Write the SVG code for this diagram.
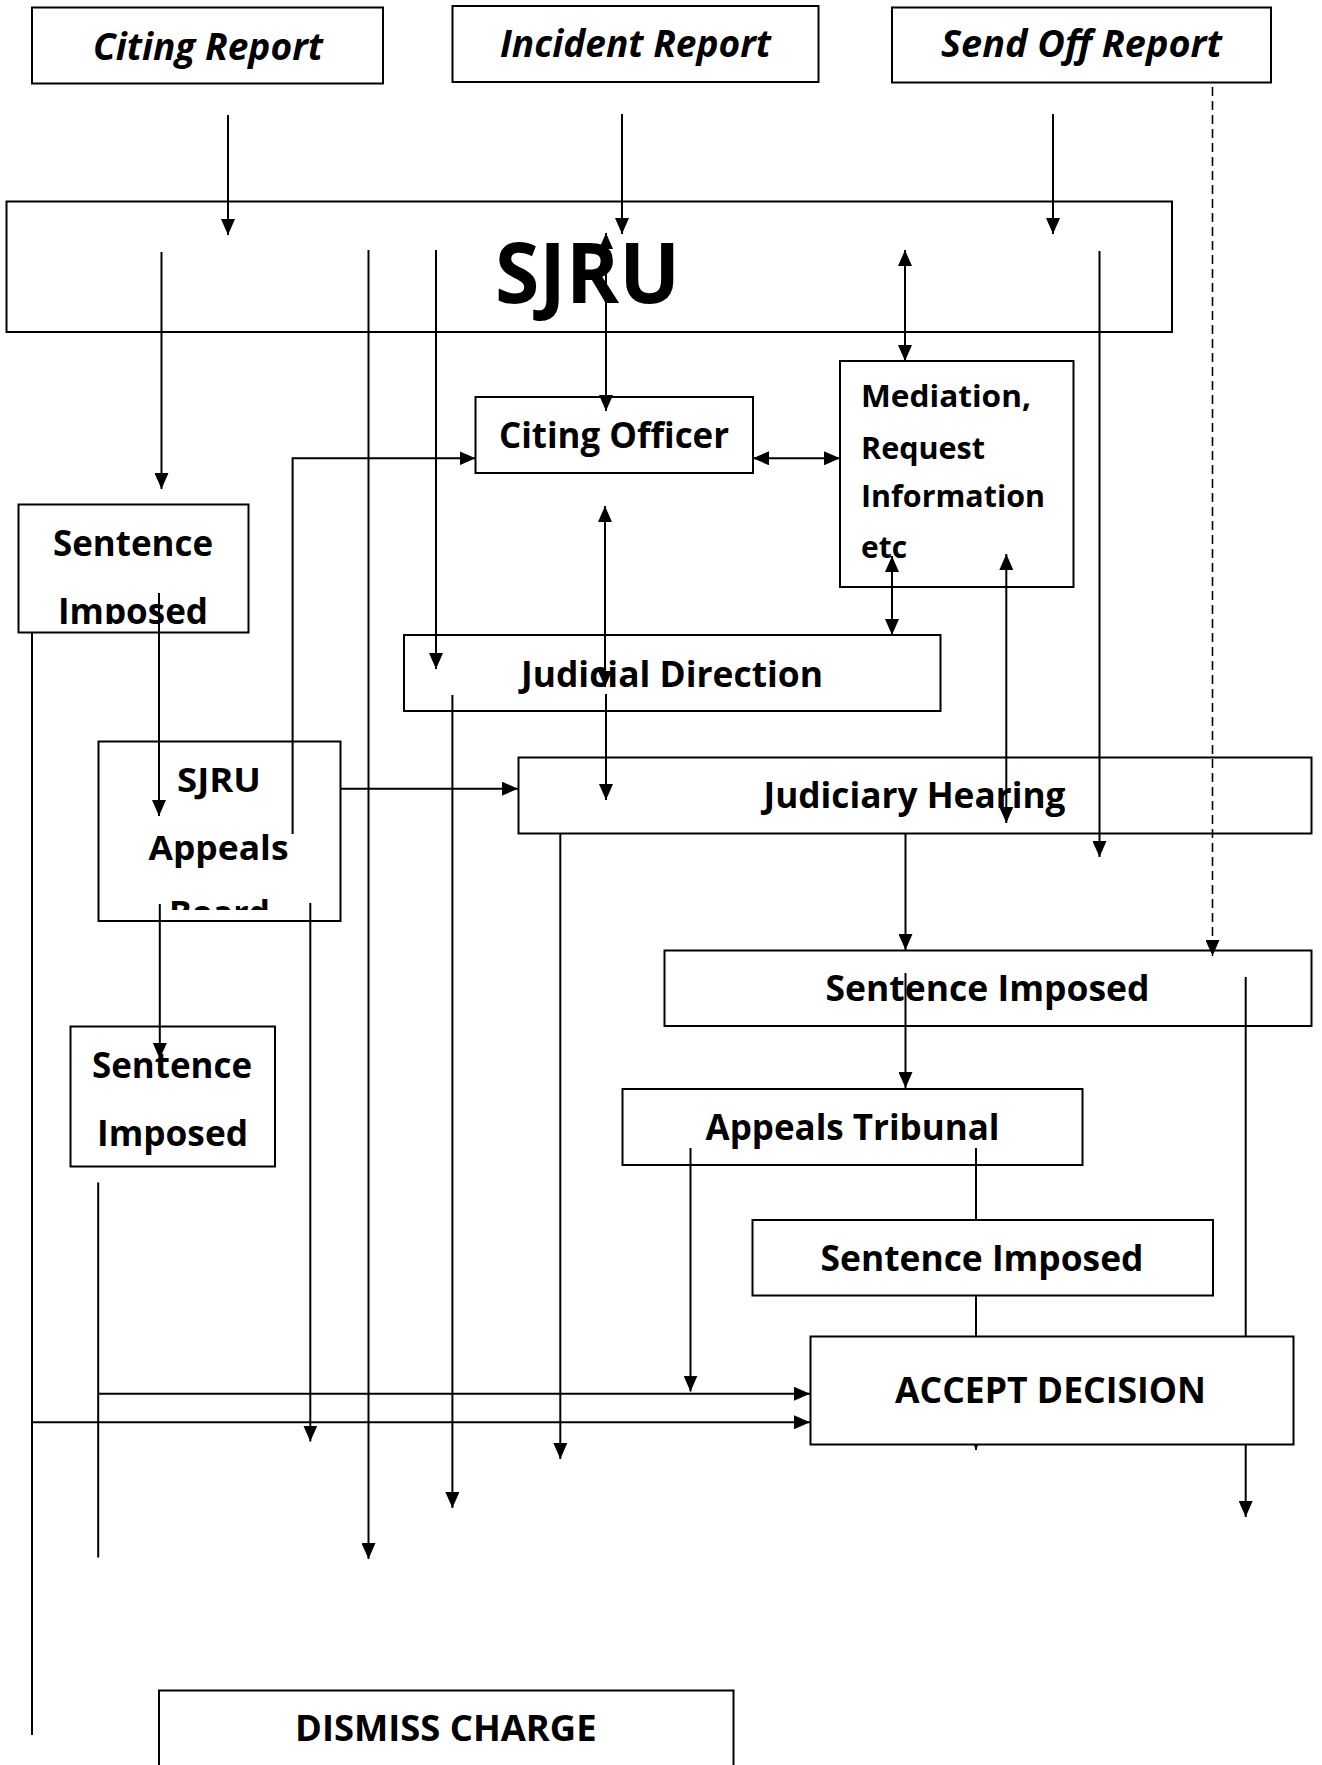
<svg xmlns="http://www.w3.org/2000/svg" width="1322" height="1765" viewBox="0 0 1322 1765">
<style>
.box{fill:none;stroke:#000;stroke-width:2}
.wbox{fill:#fff;stroke:#000;stroke-width:2}
.t{font-family:"Open Sans","Liberation Sans",sans-serif;font-weight:bold;fill:#000}
.ti{font-style:italic;font-size:37px}
.tb{font-size:35px}
.tm{font-size:30px}
.ln{fill:none;stroke:#000;stroke-width:2}
.a{marker-end:url(#ah)}
.d{marker-start:url(#ah);marker-end:url(#ah)}
.dash{stroke-width:1.6;stroke-dasharray:9 5}
</style>
<defs>
<marker id="ah" viewBox="0 0 16 14" refX="16" refY="7" markerWidth="16" markerHeight="14" markerUnits="userSpaceOnUse" orient="auto-start-reverse">
<path d="M0,0 L16,7 L0,14 z" fill="#000"/>
</marker>
<clipPath id="c1"><rect x="18" y="504" width="232" height="120"/></clipPath>
<clipPath id="c2"><rect x="98" y="741" width="243" height="169"/></clipPath>
</defs>

<g id="citing-report"><rect class="box" x="32" y="7.5" width="351" height="76"/><text class="t ti" x="93" y="60" textLength="230" lengthAdjust="spacingAndGlyphs">Citing Report</text></g>
<g id="incident-report"><rect class="box" x="452.5" y="6" width="366" height="76"/><text class="t ti" x="500" y="57" textLength="271" lengthAdjust="spacingAndGlyphs">Incident Report</text></g>
<g id="send-off-report"><rect class="box" x="892" y="7.5" width="379" height="75"/><text class="t ti" x="941" y="57" textLength="281" lengthAdjust="spacingAndGlyphs">Send Off Report</text></g>
<g id="sjru"><rect class="box" x="6.5" y="201.5" width="1165.5" height="130.5"/><text class="t" font-size="84" x="495" y="303" textLength="185" lengthAdjust="spacingAndGlyphs">SJRU</text></g>
<g id="citing-officer"><rect class="box" x="475.5" y="397" width="277.5" height="76"/><text class="t tb" x="499" y="448" textLength="230" lengthAdjust="spacingAndGlyphs">Citing Officer</text></g>
<g id="mediation"><rect class="box" x="840" y="361" width="233.5" height="226"/>
<text class="t tm" x="861" y="407" textLength="170" lengthAdjust="spacingAndGlyphs">Mediation,</text>
<text class="t tm" x="861" y="459" textLength="124" lengthAdjust="spacingAndGlyphs">Request</text>
<text class="t tm" x="861" y="507" textLength="184" lengthAdjust="spacingAndGlyphs">Information</text>
<text class="t tm" x="861" y="558" textLength="46" lengthAdjust="spacingAndGlyphs">etc</text></g>
<g id="sentence-imposed-1"><rect class="box" x="18.5" y="504.5" width="230" height="128"/>
<text class="t tb" x="53" y="556" textLength="160" lengthAdjust="spacingAndGlyphs">Sentence</text>
<text class="t tb" x="58" y="624" textLength="150" lengthAdjust="spacingAndGlyphs" clip-path="url(#c1)">Imposed</text></g>
<g id="judicial-direction"><rect class="box" x="404" y="635" width="536.5" height="76"/><text class="t tb" x="521" y="687" textLength="302" lengthAdjust="spacingAndGlyphs">Judicial Direction</text></g>
<g id="sjru-appeals-board"><rect class="box" x="98.5" y="741.5" width="242" height="179.5"/>
<g clip-path="url(#c2)">
<text class="t" font-size="34" x="177" y="792" textLength="84" lengthAdjust="spacingAndGlyphs">SJRU</text>
<text class="t" font-size="34" x="148.5" y="860" textLength="140" lengthAdjust="spacingAndGlyphs">Appeals</text>
<text class="t" font-size="34" x="169" y="925" textLength="101" lengthAdjust="spacingAndGlyphs">Board</text></g></g>
<g id="judiciary-hearing"><rect class="box" x="518.5" y="757.5" width="793" height="76"/><text class="t tb" x="763.5" y="808" textLength="302" lengthAdjust="spacingAndGlyphs">Judiciary Hearing</text></g>
<g id="sentence-imposed-3"><rect class="box" x="664.5" y="950.5" width="647" height="75.5"/><text class="t tb" x="825.5" y="1001" textLength="324" lengthAdjust="spacingAndGlyphs">Sentence Imposed</text></g>
<g id="sentence-imposed-2"><rect class="box" x="70.5" y="1026.5" width="204.5" height="140"/>
<text class="t tb" x="92" y="1078" textLength="160" lengthAdjust="spacingAndGlyphs">Sentence</text>
<text class="t tb" x="97" y="1146" textLength="151" lengthAdjust="spacingAndGlyphs">Imposed</text></g>
<g id="appeals-tribunal"><rect class="box" x="622.5" y="1089" width="460" height="76"/><text class="t tb" x="705.5" y="1140" textLength="294" lengthAdjust="spacingAndGlyphs">Appeals Tribunal</text></g>
<g id="dismiss-charge"><rect class="box" x="159" y="1690.5" width="574.5" height="100"/><text class="t tb" x="295" y="1740.5" textLength="301.5" lengthAdjust="spacingAndGlyphs">DISMISS CHARGE</text></g>

<g id="connectors">
<path class="ln a" d="M228,115 V235"/>
<path class="ln a" d="M622,114 V234"/>
<path class="ln a" d="M1053,114 V234"/>
<path class="ln a dash" d="M1212.5,87 V956"/>
<path class="ln a" d="M161.5,252 V489"/>
<path class="ln a" d="M368.5,250 V1559"/>
<path class="ln a" d="M436,250 V669"/>
<path class="ln d" d="M606,233 V411"/>
<path class="ln d" d="M905,250 V361"/>
<path class="ln a" d="M1099.5,251 V857"/>
<path class="ln d" d="M753,458.3 H840"/>
<path class="ln a" d="M292.6,834 V458.3 H475.5"/>
<path class="ln a" d="M159,593 V816"/>
<path class="ln" d="M32,632.7 V1735"/>
<path class="ln a" d="M32,1422.3 H810"/>
<path class="ln d" d="M605,506 V687"/>
<path class="ln a" d="M606,694 V800"/>
<path class="ln a" d="M452.4,695 V1508"/>
<path class="ln d" d="M892,556 V635"/>
<path class="ln d" d="M1006.3,554 V823"/>
<path class="ln a" d="M340.6,788.7 H518"/>
<path class="ln a" d="M159.8,904 V1059"/>
<path class="ln a" d="M310.3,903 V1441.6"/>
<path class="ln a" d="M560.3,833 V1459"/>
<path class="ln a" d="M905.5,833 V950"/>
<path class="ln a" d="M905.5,973 V1088"/>
<path class="ln a" d="M1245.7,977 V1517"/>
<path class="ln a" d="M690.5,1148 V1391.5"/>
<path class="ln a" d="M976,1148 V1450"/>
<path class="ln" d="M98.2,1182.4 V1557.4"/>
<path class="ln a" d="M98.2,1393.8 H810"/>
</g>

<g id="sentence-imposed-4"><rect class="wbox" x="752.5" y="1220" width="460.5" height="75.5"/><text class="t tb" x="820.5" y="1271" textLength="323" lengthAdjust="spacingAndGlyphs">Sentence Imposed</text></g>
<g id="accept-decision"><rect class="wbox" x="810.5" y="1336.5" width="483" height="108"/><text class="t tb" x="895" y="1403" textLength="311" lengthAdjust="spacingAndGlyphs">ACCEPT DECISION</text></g>
</svg>
